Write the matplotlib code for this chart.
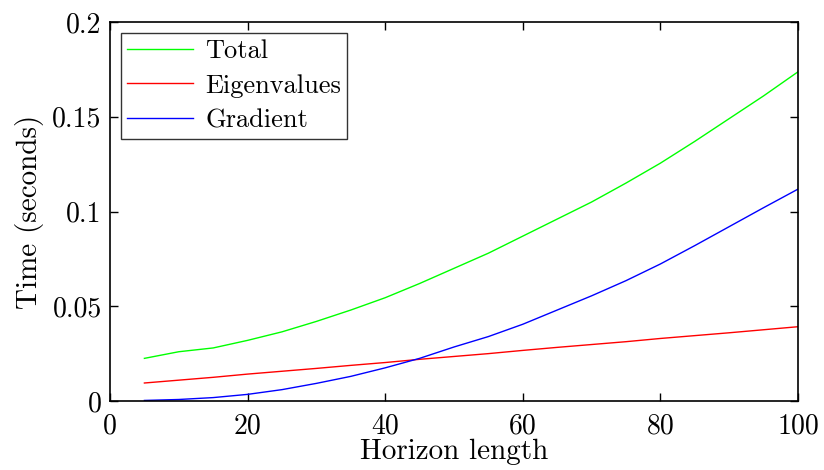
import matplotlib
matplotlib.use("Agg")
import matplotlib.pyplot as plt

plt.rcParams['font.family'] = ['cmr10', 'DejaVu Serif']
plt.rcParams['mathtext.fontset'] = 'cm'
plt.rcParams['axes.formatter.use_mathtext'] = True

horizon = [5, 10, 15, 20, 25, 30, 35, 40, 45, 50, 55, 60, 65, 70, 75, 80, 85, 90, 95, 100]
total = [0.0225, 0.026, 0.028, 0.032, 0.0365, 0.042, 0.048, 0.0545, 0.062, 0.070,
         0.078, 0.087, 0.096, 0.105, 0.115, 0.1255, 0.137, 0.149, 0.161, 0.1737]
eigen = [0.0095, 0.011, 0.0125, 0.0142, 0.0157, 0.0172, 0.0188, 0.0203, 0.022, 0.0235,
         0.025, 0.0267, 0.0283, 0.0298, 0.0313, 0.033, 0.0345, 0.036, 0.0376, 0.0392]
gradient = [0.0003, 0.0008, 0.0018, 0.0035, 0.006, 0.0093, 0.013, 0.0175, 0.0225, 0.0285,
            0.034, 0.0405, 0.048, 0.0555, 0.0635, 0.0723, 0.082, 0.092, 0.102, 0.1118]
xticks = [0, 20, 40, 60, 80, 100]
yticks = [0, 0.05, 0.1, 0.15, 0.2]
yticklabels = ['0', '0.05', '0.1', '0.15', '0.2']

fig = plt.figure(figsize=(8.24, 4.70), dpi=100)
ax = fig.add_axes([0.1335, 0.1468, 0.8349, 0.8064])
ax.plot(horizon, total, color=(0, 1, 0), lw=1.0, label='Total')
ax.plot(horizon, eigen, color=(1, 0, 0), lw=1.0, label='Eigenvalues')
ax.plot(horizon, gradient, color=(0, 0, 1), lw=1.0, label='Gradient')

ax.set_xlim(0, 100)
ax.set_ylim(0, 0.2)
ax.set_xticks(xticks)
ax.set_xticklabels([str(t) for t in xticks])
ax.set_yticks(yticks)
ax.set_yticklabels(yticklabels)
ax.tick_params(direction='in', top=True, right=True, length=6, width=1, labelsize=20)
ax.tick_params(axis='x', pad=9)
ax.tick_params(axis='y', pad=6)
for s in ax.spines.values():
    s.set_linewidth(1.2)
ax.set_xlabel('Horizon length', fontsize=21, labelpad=-1)
ax.set_ylabel('Time (seconds)', fontsize=21, labelpad=6)

leg = ax.legend(loc='upper left', fontsize=19, frameon=True, fancybox=False,
                borderaxespad=0.4, handlelength=2.5, handletextpad=0.45,
                labelspacing=0.42, borderpad=0.25)
leg.get_frame().set_edgecolor('black')
leg.get_frame().set_linewidth(1.0)

fig.savefig('out.png', dpi=100)
